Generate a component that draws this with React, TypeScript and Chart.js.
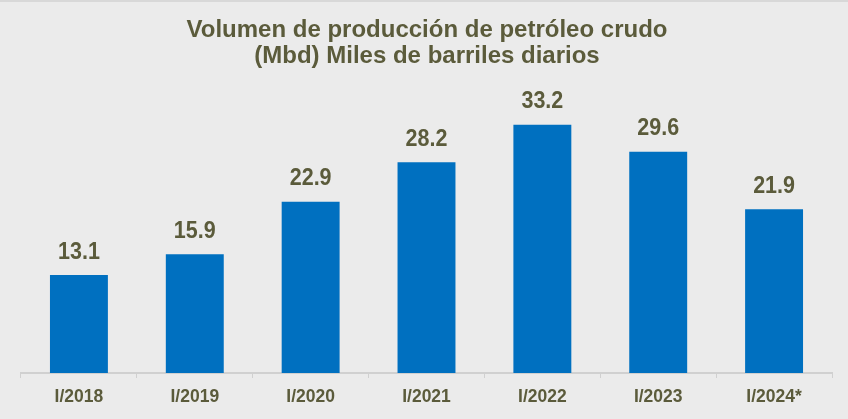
import React, { useEffect, useRef } from "react";
import { Chart, registerables } from "chart.js";

Chart.register(...registerables);

const categories = ["I/2018", "I/2019", "I/2020", "I/2021", "I/2022", "I/2023", "I/2024*"];
const values = [13.1, 15.9, 22.9, 28.2, 33.2, 29.6, 21.9];
const titleLines = ["Volumen de producción de petróleo crudo", "(Mbd) Miles de barriles diarios"];

const OLIVE = "#5b5b3b";
const BLUE = "#0070c0";
const FONT = "'Liberation Sans', Arial, sans-serif";

const labelPlugin = {
  id: "barLabels",
  afterDatasetsDraw(chart: any) {
    const ctx = chart.ctx;
    const meta = chart.getDatasetMeta(0);
    meta.data.forEach((bar: any, i: number) => {
      ctx.save();
      ctx.fillStyle = OLIVE;
      ctx.font = `bold 21.5px ${FONT}`;
      ctx.textAlign = "center";
      ctx.textBaseline = "alphabetic";
      ctx.translate(bar.x, bar.y - 16.5);
      ctx.scale(1, 1.08);
      ctx.fillText(values[i].toFixed(1), 0, 0);
      ctx.restore();
    });
  },
};

const titlePlugin = {
  id: "twoLineTitle",
  afterDraw(chart: any) {
    const ctx = chart.ctx;
    ctx.save();
    ctx.fillStyle = OLIVE;
    ctx.font = `bold 24px ${FONT}`;
    ctx.textAlign = "center";
    ctx.textBaseline = "alphabetic";
    ctx.fillText(titleLines[0], 427, 35);
    ctx.fillText(titleLines[1], 427, 61);
    ctx.restore();
  },
};

export default function App() {
  const ref = useRef<HTMLCanvasElement>(null);
  useEffect(() => {
    document.body.style.margin = "0";
    const chart = new Chart(ref.current!, {
      type: "bar",
      data: {
        labels: categories,
        datasets: [
          {
            data: values,
            backgroundColor: BLUE,
            barPercentage: 0.5,
            categoryPercentage: 1,
          },
        ],
      },
      options: {
        animation: false,
        responsive: false,
        maintainAspectRatio: false,
        layout: { padding: { left: 21, right: 16, top: 72, bottom: 2 } },
        plugins: { legend: { display: false }, tooltip: { enabled: false }, title: { display: false } },
        scales: {
          x: {
            grid: { drawOnChartArea: false, drawTicks: true, tickLength: 5, color: "#d0d0d0", offset: true },
            border: { display: true, color: "#d0d0d0", width: 2 },
            ticks: {
              color: OLIVE,
              font: { family: FONT, size: 17.5, weight: "bold" },
              padding: 9,
              maxRotation: 0,
            },
          },
          y: {
            display: false,
            min: 0,
            max: 40,
          },
        },
      },
      plugins: [labelPlugin, titlePlugin],
    });
    return () => chart.destroy();
  }, []);
  return (
    <div style={{ width: 848, height: 419, background: "#ebebeb", boxSizing: "border-box", borderTop: "2px solid #d8d8d8", position: "relative" }}>
      <canvas ref={ref} width={848} height={417} style={{ display: "block" }} />
    </div>
  );
}
